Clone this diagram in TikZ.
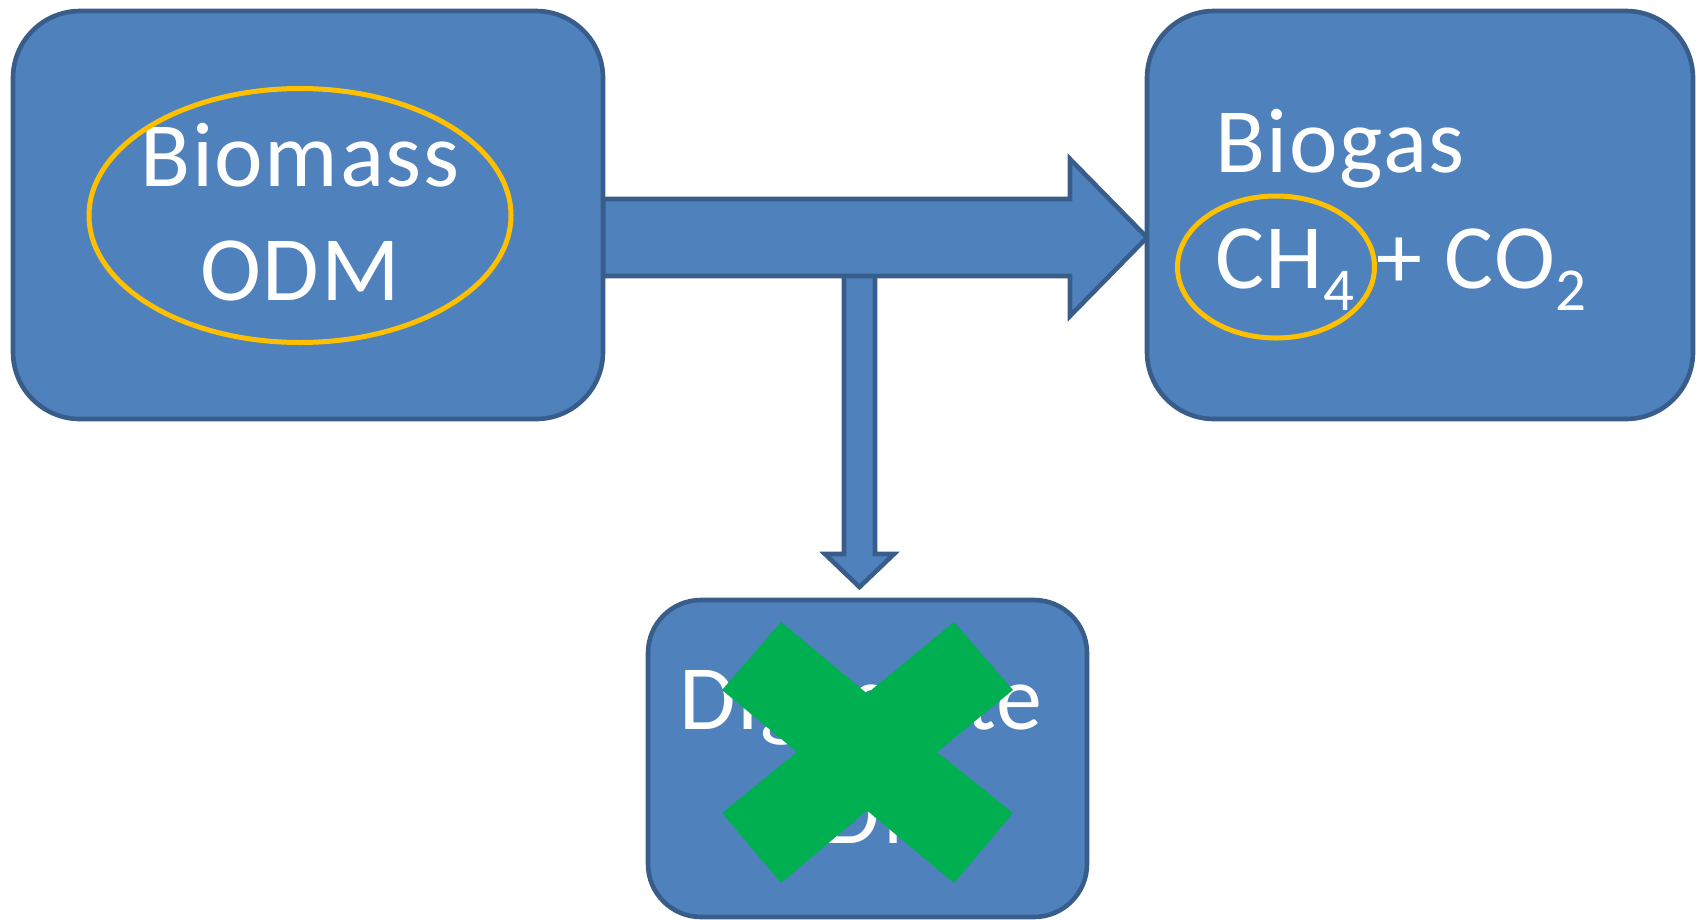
\documentclass[tikz,border=0pt]{standalone}
\usepackage{fontspec}
\setmainfont{Carlito}[LetterSpace=1.8]
\definecolor{boxfill}{HTML}{4F81BD}
\definecolor{boxline}{HTML}{385D8A}
\definecolor{ringline}{HTML}{FFC000}
\definecolor{crossfill}{HTML}{00B050}
\tikzset{
  stage/.style={draw=boxline, fill=boxfill, line width=4.6pt, rounded corners=67pt,
    outer sep=0pt, inner sep=0pt},
  stagetext/.style={inner sep=0pt, text=white, align=center,
    font=\fontsize{92}{114}\selectfont},
  flow/.style={draw=boxline, fill=boxfill, line width=4.6pt, line join=miter},
  ring/.style={draw=ringline, line width=5pt},
  crossout/.style={fill=crossfill}
}
\newcommand{\chemsub}[1]{\raisebox{-22pt}{\fontsize{61}{61}\selectfont #1}}
\begin{document}
\begin{tikzpicture}[x=1pt,y=1pt,yscale=-1]
\useasboundingbox (0,0) rectangle (1698,919);

%Arrows
\draw[flow] (844,250) -- (875,250) -- (875,554) -- (894,554) -- (859.5,587) -- (825,554) -- (844,554) -- cycle;
\draw[flow] (603,199) -- (1070,199) -- (1070,159) -- (1147,237.5) -- (1070,316) -- (1070,276) -- (603,276) -- cycle;

%Boxes
\node[stage, minimum width=590pt, minimum height=408pt] (biomass) at (308,215) {};
\node[stage, minimum width=546pt, minimum height=408pt] (biogas) at (1420,215) {};
\node[stage, rounded corners=53pt, minimum width=439pt, minimum height=317pt] (digestate) at (867.5,758.5) {};

%Texts
\node[stagetext] (biomasslabel) at (300,212) {Biomass\\ODM};
\node[stagetext, align=left, font=\fontsize{92}{116}\selectfont, anchor=south west] (biogaslabel) at (1215,311)
  {Biogas\\CH\chemsub{4} + CO\chemsub{2}};
\node[stagetext] (digestatelabel) at (861,755.5) {Digestate\\ODM};

%Rings
\draw[ring] (300,215.5) ellipse [x radius=211, y radius=127];
\draw[ring] (1276,267) ellipse [x radius=98.5, y radius=71];

%Cross
\fill[crossout] (781,622) -- (867,693.5) -- (954,622) -- (1013,690) -- (937,752) -- (1013,813)
  -- (954,883) -- (867,810.5) -- (781,883) -- (722,813) -- (797,752) -- (722,690) -- cycle;

\end{tikzpicture}
\end{document}
